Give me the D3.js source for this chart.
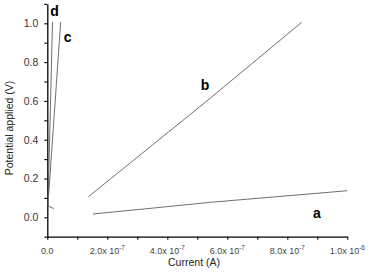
<!DOCTYPE html>
<html>
<head>
<meta charset="utf-8">
<script src="https://cdn.jsdelivr.net/npm/d3@7"></script>
<style>
  body { margin: 0; background: #fff; }
  svg { display: block; font-family: "Liberation Sans", Arial, sans-serif; }
</style>
</head>
<body>
<div id="chart"></div>
<script>
// series: current (A) vs potential (V)
var seriesA_x = [1.52e-7, 3.36e-7, 5.42e-7, 1.0e-6];
var seriesA_y = [0.017, 0.045, 0.077, 0.137];
var seriesB_x = [1.37e-7, 5.26e-7, 8.48e-7];
var seriesB_y = [0.106, 0.592, 1.005];
var seriesC_x = [4.5e-9, 4.47e-8];
var seriesC_y = [0.115, 1.007];
var seriesD_x = [2.2e-8, 2.3e-9, 1.73e-8];
var seriesD_y = [0.045, 0.058, 1.007];

var seriesNames = ["a", "b", "c", "d"];
var labelX = [8.99e-7, 5.26e-7, 6.8e-8, 2.4e-8];
var labelY = [0.022, 0.682, 0.93, 1.065];

var yTicks = [-0.1, 0, 0.1, 0.2, 0.3, 0.4, 0.5, 0.6, 0.7, 0.8, 0.9, 1.0, 1.1];
var yTickLabels = ["", "0.0", "", "0.2", "", "0.4", "", "0.6", "", "0.8", "", "1.0", ""];
var xTicks = [0, 1e-7, 2e-7, 3e-7, 4e-7, 5e-7, 6e-7, 7e-7, 8e-7, 9e-7, 1e-6];
var xTickMant = ["0.0", "", "2.0x 10", "", "4.0x 10", "", "6.0x 10", "", "8.0x 10", "", "1.0x 10"];
var xTickExp = ["", "", "-7", "", "-7", "", "-7", "", "-7", "", "-6"];

var width = 372, height = 276;

var svg = d3.select("#chart")
  .append("svg")
  .attr("width", width)
  .attr("height", height);

var x = d3.scaleLinear().domain([0, 1e-6]).range([47.3, 347.3]);
var y = d3.scaleLinear().domain([-0.1, 1.1]).range([236.7, 3.9]);

// y axis
var yAxis = svg.append("g")
  .attr("transform", "translate(" + x(0) + ",0)")
  .call(d3.axisLeft(y).tickValues(yTicks).tickSize(3).tickSizeOuter(0)
    .tickFormat(function (d, i) { return yTickLabels[i]; }));
yAxis.select(".domain").attr("stroke", "#000").attr("stroke-width", 1.3);
yAxis.selectAll(".tick line").attr("stroke", "#000").attr("stroke-width", 1.1);
yAxis.selectAll(".tick text")
  .attr("x", -9)
  .attr("fill", "#333")
  .style("font-size", "10.5px")
  .style("font-family", "'Liberation Sans', Arial, sans-serif");

// x axis
var xAxis = svg.append("g")
  .attr("transform", "translate(0," + y(-0.1) + ")")
  .call(d3.axisBottom(x).tickValues(xTicks).tickSize(3).tickSizeOuter(0).tickFormat(""));
xAxis.select(".domain").attr("stroke", "#000").attr("stroke-width", 1.3);
xAxis.selectAll(".tick line").attr("stroke", "#000").attr("stroke-width", 1.1);

var xl = svg.append("g").selectAll("text")
  .data(xTicks)
  .enter()
  .append("text")
  .attr("x", function (d) { return x(d); })
  .attr("y", y(-0.1) + 17)
  .attr("text-anchor", "middle")
  .attr("fill", "#444")
  .style("font-size", "9px");
xl.append("tspan").text(function (d, i) { return xTickMant[i]; });
xl.append("tspan")
  .attr("dy", -3.5)
  .style("font-size", "6.5px")
  .text(function (d, i) { return xTickExp[i]; });

// axis titles
svg.append("text")
  .attr("x", 194)
  .attr("y", 266)
  .attr("text-anchor", "middle")
  .attr("fill", "#222")
  .style("font-size", "10.5px")
  .text("Current (A)");

svg.append("text")
  .attr("transform", "rotate(-90)")
  .attr("x", -128)
  .attr("y", 13)
  .attr("text-anchor", "middle")
  .attr("fill", "#222")
  .style("font-size", "10.5px")
  .text("Potential applied (V)");

// lines
var allX = [seriesA_x, seriesB_x, seriesC_x, seriesD_x];
var allY = [seriesA_y, seriesB_y, seriesC_y, seriesD_y];
var line = d3.line()
  .x(function (d) { return x(d[0]); })
  .y(function (d) { return y(d[1]); });

svg.append("g").selectAll("path")
  .data(allX.map(function (xs, k) { return xs.map(function (v, i) { return [v, allY[k][i]]; }); }))
  .enter()
  .append("path")
  .attr("d", line)
  .attr("fill", "none")
  .attr("stroke", "#555")
  .attr("stroke-width", 0.85);

// series letters
svg.append("g").selectAll("text")
  .data(seriesNames)
  .enter()
  .append("text")
  .attr("x", function (d, i) { return x(labelX[i]); })
  .attr("y", function (d, i) { return y(labelY[i]); })
  .attr("text-anchor", "middle")
  .attr("dominant-baseline", "central")
  .style("font-size", "14px")
  .style("font-weight", "bold")
  .text(function (d) { return d; });
</script>
</body>
</html>
